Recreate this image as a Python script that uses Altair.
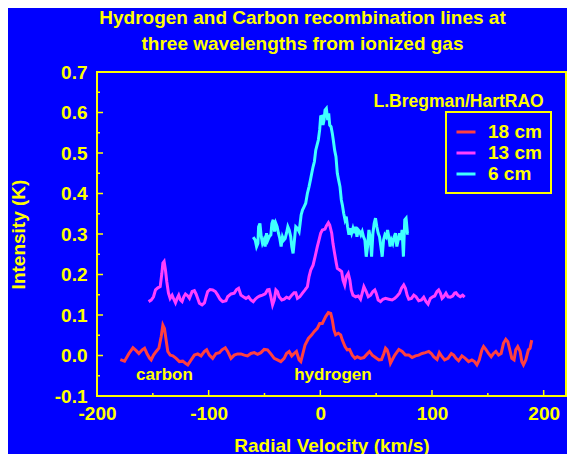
import altair as alt
import pandas as pd

FONT = "Liberation Sans"
BLUE = "#0000ff"
YELLOW = "#ffff00"

series_names = ["18 cm", "13 cm", "6 cm"]
series_colors = ["#ff4040", "#ff40ff", "#40ffff"]

# (radial velocity km/s, intensity K)
red_18cm = [
    (-179.1, -0.010), (-175.3, -0.014), (-171.4, 0.005), (-167.8, 0.019), (-164.9, 0.012),
    (-162.5, 0.005), (-159.5, 0.014), (-157.4, 0.018), (-155.3, 0.005), (-152.9, -0.007),
    (-151.5, -0.011), (-149.4, 0.001), (-147.0, 0.010), (-144.6, 0.018), (-142.5, 0.047),
    (-141.0, 0.075), (-139.6, 0.067), (-138.1, 0.038), (-136.6, 0.010), (-134.5, 0.001),
    (-132.1, -0.001), (-129.1, -0.007), (-126.2, -0.015), (-123.2, -0.014), (-120.8, -0.019),
    (-118.7, -0.023), (-115.7, -0.011), (-112.8, 0.001), (-109.8, 0.004), (-106.8, -0.001),
    (-103.8, 0.010), (-101.8, 0.014), (-99.4, 0.001), (-96.4, -0.007), (-93.4, 0.005),
    (-90.4, 0.007), (-88.1, 0.014), (-85.1, 0.019), (-83.0, 0.010), (-80.0, -0.007),
    (-77.1, 0.001), (-74.1, 0.004), (-71.1, 0.004), (-68.1, 0.001), (-65.2, -0.001),
    (-62.2, 0.005), (-59.2, 0.007), (-56.2, 0.003), (-53.2, 0.007), (-50.3, 0.015),
    (-47.3, 0.014), (-44.3, 0.004), (-41.3, -0.007), (-38.4, -0.011), (-35.4, -0.015),
    (-32.4, -0.007), (-30.3, 0.005), (-27.9, 0.010), (-25.6, -0.001), (-23.5, 0.005),
    (-21.4, 0.010), (-19.0, -0.011), (-17.5, -0.015), (-16.0, 0.001), (-13.7, 0.026),
    (-10.7, 0.042), (-7.7, 0.051), (-5.6, 0.059), (-2.7, 0.067), (-0.6, 0.079),
    (1.8, 0.079), (4.8, 0.096), (7.2, 0.106), (9.3, 0.104), (10.7, 0.088),
    (12.2, 0.063), (13.7, 0.051), (16.1, 0.055), (18.2, 0.051), (19.7, 0.038),
    (22.1, 0.022), (24.1, 0.014), (26.2, 0.015), (28.6, 0.001), (31.0, -0.007),
    (33.1, -0.003), (36.0, -0.007), (39.0, -0.005), (42.0, 0.004), (44.1, 0.010),
    (46.5, 0.001), (49.4, -0.005), (52.4, -0.011), (54.8, -0.010), (56.9, 0.005),
    (58.4, 0.018), (59.8, 0.014), (61.3, 0.001), (62.8, -0.019), (64.3, -0.011),
    (66.7, 0.001), (70.3, 0.015), (73.3, 0.010), (76.2, 0.001), (79.2, 0.001),
    (82.2, -0.005), (85.2, -0.001), (88.1, 0.001), (91.1, 0.005), (94.1, 0.007),
    (97.1, 0.010), (99.4, 0.005), (101.5, -0.003), (104.5, -0.010), (106.6, 0.007),
    (109.0, -0.003), (111.3, -0.011), (114.3, -0.007), (117.3, 0.005), (119.4, 0.001),
    (121.5, -0.007), (123.8, -0.013), (126.8, -0.001), (129.8, -0.007), (132.8, -0.015),
    (135.7, -0.011), (138.1, -0.015), (140.2, -0.023), (142.3, -0.011), (144.7, 0.014),
    (146.2, 0.022), (148.2, 0.015), (150.6, 0.005), (153.0, -0.003), (155.1, 0.005),
    (157.2, 0.010), (159.6, 0.001), (161.9, 0.005), (164.0, 0.030), (166.1, 0.040),
    (167.9, 0.034), (170.0, 0.010), (171.5, -0.007), (173.5, -0.011), (175.0, 0.014),
    (176.8, 0.022), (178.9, 0.010), (180.4, -0.015), (181.9, -0.023), (184.0, -0.011),
    (186.3, 0.014), (187.8, 0.018), (189.3, 0.038),
]

magenta_13cm = [
    (-153.8, 0.133), (-151.5, 0.137), (-149.4, 0.145), (-147.6, 0.162), (-145.5, 0.167),
    (-143.4, 0.170), (-141.9, 0.203), (-141.0, 0.228), (-139.9, 0.232), (-138.7, 0.211),
    (-137.5, 0.182), (-136.0, 0.154), (-134.5, 0.141), (-132.7, 0.149), (-131.2, 0.139),
    (-129.7, 0.130), (-128.2, 0.141), (-126.8, 0.149), (-125.3, 0.137), (-123.8, 0.133),
    (-122.3, 0.145), (-120.8, 0.152), (-118.7, 0.147), (-117.2, 0.141), (-114.8, 0.158),
    (-112.8, 0.160), (-111.3, 0.152), (-109.8, 0.141), (-108.3, 0.129), (-105.9, 0.125),
    (-103.8, 0.130), (-102.3, 0.145), (-100.9, 0.158), (-98.8, 0.163), (-96.4, 0.162),
    (-94.0, 0.158), (-91.9, 0.149), (-89.8, 0.139), (-87.5, 0.133), (-84.5, 0.135),
    (-83.0, 0.145), (-80.0, 0.152), (-77.1, 0.154), (-75.0, 0.163), (-73.2, 0.166),
    (-71.1, 0.149), (-69.0, 0.145), (-66.6, 0.141), (-64.3, 0.145), (-62.2, 0.137),
    (-60.1, 0.133), (-58.3, 0.139), (-56.2, 0.144), (-54.2, 0.147), (-51.8, 0.149),
    (-49.4, 0.152), (-47.3, 0.162), (-45.8, 0.163), (-44.3, 0.145), (-42.8, 0.125),
    (-41.3, 0.137), (-39.8, 0.162), (-38.4, 0.158), (-36.9, 0.145), (-34.5, 0.137),
    (-32.4, 0.139), (-30.3, 0.144), (-27.9, 0.141), (-25.6, 0.149), (-23.5, 0.155),
    (-22.0, 0.155), (-20.5, 0.141), (-18.4, 0.145), (-16.0, 0.154), (-13.7, 0.162),
    (-11.6, 0.170), (-10.1, 0.195), (-8.6, 0.211), (-6.5, 0.223), (-4.7, 0.244),
    (-2.7, 0.269), (-1.2, 0.285), (0.3, 0.302), (1.8, 0.310), (4.2, 0.312),
    (5.4, 0.320), (7.2, 0.328), (8.4, 0.322), (10.2, 0.302), (11.3, 0.277),
    (12.8, 0.252), (14.3, 0.228), (15.2, 0.215), (17.3, 0.211), (19.1, 0.207),
    (20.3, 0.186), (21.8, 0.174), (23.2, 0.195), (25.0, 0.203), (26.5, 0.186),
    (27.7, 0.162), (29.2, 0.149), (31.6, 0.145), (34.0, 0.147), (36.0, 0.139),
    (37.5, 0.154), (39.0, 0.170), (41.1, 0.158), (42.9, 0.145), (45.0, 0.149),
    (47.1, 0.158), (48.8, 0.162), (50.0, 0.154), (51.8, 0.137), (53.9, 0.133),
    (56.0, 0.139), (58.4, 0.141), (61.3, 0.139), (64.3, 0.137), (66.7, 0.141),
    (68.8, 0.147), (70.9, 0.154), (72.7, 0.166), (74.7, 0.174), (76.2, 0.166),
    (77.7, 0.149), (79.2, 0.139), (81.6, 0.141), (83.7, 0.149), (85.7, 0.145),
    (88.1, 0.135), (90.5, 0.137), (92.6, 0.144), (94.7, 0.133), (96.5, 0.127),
    (98.5, 0.141), (100.6, 0.145), (102.4, 0.147), (104.5, 0.158), (106.0, 0.162),
    (107.5, 0.154), (109.0, 0.141), (110.4, 0.145), (112.5, 0.154), (114.3, 0.145),
    (116.4, 0.144), (118.5, 0.147), (120.3, 0.154), (121.5, 0.155), (123.2, 0.149),
    (125.3, 0.145), (127.4, 0.149), (129.2, 0.144),
]

cyan_6cm = [
    (-60.1, 0.292), (-58.3, 0.285), (-57.1, 0.269), (-55.9, 0.277), (-55.3, 0.318),
    (-54.1, 0.326), (-52.9, 0.293), (-51.8, 0.277), (-50.6, 0.285), (-49.4, 0.269),
    (-48.2, 0.302), (-47.0, 0.285), (-45.8, 0.293), (-44.3, 0.298), (-43.4, 0.326),
    (-42.2, 0.335), (-41.0, 0.306), (-39.8, 0.326), (-38.7, 0.318), (-37.5, 0.302),
    (-36.3, 0.289), (-35.1, 0.269), (-33.9, 0.293), (-32.7, 0.285), (-31.5, 0.289),
    (-30.3, 0.302), (-29.1, 0.318), (-27.9, 0.310), (-26.5, 0.293), (-25.6, 0.269),
    (-24.4, 0.252), (-23.2, 0.285), (-22.0, 0.318), (-20.5, 0.314), (-19.0, 0.306),
    (-18.1, 0.326), (-17.2, 0.347), (-16.0, 0.359), (-14.6, 0.367), (-13.1, 0.376),
    (-11.6, 0.400), (-10.1, 0.417), (-8.9, 0.433), (-7.7, 0.450), (-6.5, 0.466),
    (-5.3, 0.479), (-4.1, 0.507), (-2.9, 0.520), (-1.8, 0.532), (-0.6, 0.557),
    (0.3, 0.590), (1.5, 0.591), (2.4, 0.569), (3.3, 0.581), (4.2, 0.606),
    (5.4, 0.610), (6.6, 0.581), (7.5, 0.598), (8.4, 0.569), (9.6, 0.565),
    (10.7, 0.549), (11.6, 0.532), (12.8, 0.507), (14.0, 0.491), (15.2, 0.450),
    (16.4, 0.433), (17.6, 0.417), (18.8, 0.384), (19.7, 0.372), (20.9, 0.351),
    (22.1, 0.335), (23.2, 0.343), (24.4, 0.318), (25.6, 0.298), (26.8, 0.314),
    (28.0, 0.302), (29.2, 0.314), (30.4, 0.302), (31.6, 0.318), (32.8, 0.293),
    (34.0, 0.310), (35.2, 0.306), (36.3, 0.298), (37.5, 0.306), (38.7, 0.293),
    (39.9, 0.285), (41.1, 0.244), (42.3, 0.269), (43.5, 0.310), (44.7, 0.293),
    (45.9, 0.244), (47.1, 0.302), (48.2, 0.326), (49.4, 0.339), (50.6, 0.318),
    (51.8, 0.302), (53.0, 0.293), (54.2, 0.269), (55.4, 0.244), (56.6, 0.285),
    (57.8, 0.298), (59.0, 0.293), (60.2, 0.310), (61.3, 0.293), (62.5, 0.269),
    (63.7, 0.285), (64.9, 0.277), (66.1, 0.293), (67.3, 0.302), (68.5, 0.269),
    (69.7, 0.285), (70.9, 0.302), (72.1, 0.285), (73.2, 0.310), (74.4, 0.244),
    (75.6, 0.335), (76.8, 0.339), (78.0, 0.302), (79.2, 0.302),
]

annotation_text = ["carbon", "hydrogen"]
annotation_v = [-139.6, 11.3]
annotation_t = [-0.06, -0.06]

credit_text = ["L.Bregman/HartRAO"]
credit_v = [200]
credit_t = [0.613]

x_label_values = [-200, -100, 0, 100, 200]
x_major_ticks = [-100, 0, 100, 200]
x_minor_ticks = [-150, -50, 50, 150]
y_label_values = [-0.1, 0.0, 0.1, 0.2, 0.3, 0.4, 0.5, 0.6, 0.7]
y_major_ticks = [0.0, 0.1, 0.2, 0.3, 0.4, 0.5, 0.6]
y_minor_ticks = [-0.05, 0.05, 0.15, 0.25, 0.35, 0.45, 0.55, 0.65]

W, H = 469, 324

rows = []
for name, pts in zip(series_names, [red_18cm, magenta_13cm, cyan_6cm]):
    for i, (v, t) in enumerate(pts):
        rows.append({"series": name, "v": v, "t": t, "i": i})
df = pd.DataFrame(rows)

x_scale = alt.Scale(domain=[-200, 220], nice=False, zero=False)
y_scale = alt.Scale(domain=[-0.1, 0.7], nice=False, zero=False)

x_axis = alt.Axis(
    values=x_label_values, grid=False, domain=False, ticks=False, tickSize=0,
    labelPadding=8, labelFlush=False, labelOverlap=False,
    labelExpr="(datum.value < 0 ? '-' : '') + format(abs(datum.value), 'd')",
    titleX=W / 2, titleY=55, titleBaseline="alphabetic", titleAlign="center",
)
y_axis = alt.Axis(
    values=y_label_values, grid=False, domain=False, ticks=False, tickSize=0,
    labelPadding=10, labelFlush=False, labelOverlap=False,
    labelExpr="(datum.value < -0.00001 ? '-' : '') + format(abs(datum.value), '.1f')",
    titleX=-73, titleY=H / 2, titleBaseline="alphabetic", titleAlign="center", titleAngle=270,
)

x_enc = alt.X("v:Q", scale=x_scale, axis=x_axis, title="Radial Velocity (km/s)")
y_enc = alt.Y("t:Q", scale=y_scale, axis=y_axis, title="Intensity (K)")

lines = alt.Chart(df).mark_line(strokeWidth=3).encode(
    x=x_enc,
    y=y_enc,
    order="i:Q",
    color=alt.Color(
        "series:N",
        scale=alt.Scale(domain=series_names, range=series_colors),
        legend=alt.Legend(
            title=None, orient="none", legendX=349, legendY=40, padding=9,
            symbolType="stroke", symbolSize=361, symbolStrokeWidth=3,
            labelFont=FONT, labelFontSize=19, labelFontWeight="bold", labelColor=YELLOW,
            labelOffset=11, rowPadding=0, strokeColor=YELLOW, fillColor=BLUE,
        ),
    ),
)

annot = alt.Chart(pd.DataFrame({"v": annotation_v, "t": annotation_t, "label": annotation_text})).mark_text(
    font=FONT, fontSize=17, fontWeight="bold", color=YELLOW, align="center", baseline="alphabetic"
).encode(x=x_enc, y=y_enc, text="label:N")

credit = alt.Chart(pd.DataFrame({"v": credit_v, "t": credit_t, "label": credit_text})).mark_text(
    font=FONT, fontSize=17.5, fontWeight="bold", color=YELLOW, align="right", baseline="alphabetic"
).encode(x=x_enc, y=y_enc, text="label:N")

xt_major = alt.Chart(pd.DataFrame({"v": x_major_ticks})).mark_rule(color=YELLOW, strokeWidth=1.5).encode(
    x=x_enc, y=alt.value(H), y2=alt.value(H - 6))
xt_minor = alt.Chart(pd.DataFrame({"v": x_minor_ticks})).mark_rule(color=YELLOW, strokeWidth=1.5).encode(
    x=x_enc, y=alt.value(H), y2=alt.value(H - 3))
yt_major = alt.Chart(pd.DataFrame({"t": y_major_ticks})).mark_rule(color=YELLOW, strokeWidth=1.5).encode(
    y=y_enc, x=alt.value(0), x2=alt.value(6))
yt_minor = alt.Chart(pd.DataFrame({"t": y_minor_ticks})).mark_rule(color=YELLOW, strokeWidth=1.5).encode(
    y=y_enc, x=alt.value(0), x2=alt.value(3))

chart = alt.layer(lines, annot, credit, xt_major, xt_minor, yt_major, yt_minor).properties(
    width=W,
    height=H,
    autosize=alt.AutoSizeParams(type="none"),
    padding={"left": 89, "top": 64, "right": 1, "bottom": 58},
    background=BLUE,
    title=alt.TitleParams(
        text=["Hydrogen and Carbon recombination lines at", "three wavelengths from ionized gas"],
        font=FONT, fontSize=19, fontWeight="bold", color=YELLOW,
        lineHeight=26, anchor="middle", dx=-29, offset=9,
    ),
).configure_view(
    stroke=YELLOW, strokeWidth=2
).configure_axis(
    labelFont=FONT, labelFontSize=19, labelFontWeight="bold", labelColor=YELLOW,
    titleFont=FONT, titleFontSize=19, titleFontWeight="bold", titleColor=YELLOW,
).configure_legend(
    strokeWidth=2
)

chart.save("out.html", embed_options={"renderer": "svg", "actions": False})
